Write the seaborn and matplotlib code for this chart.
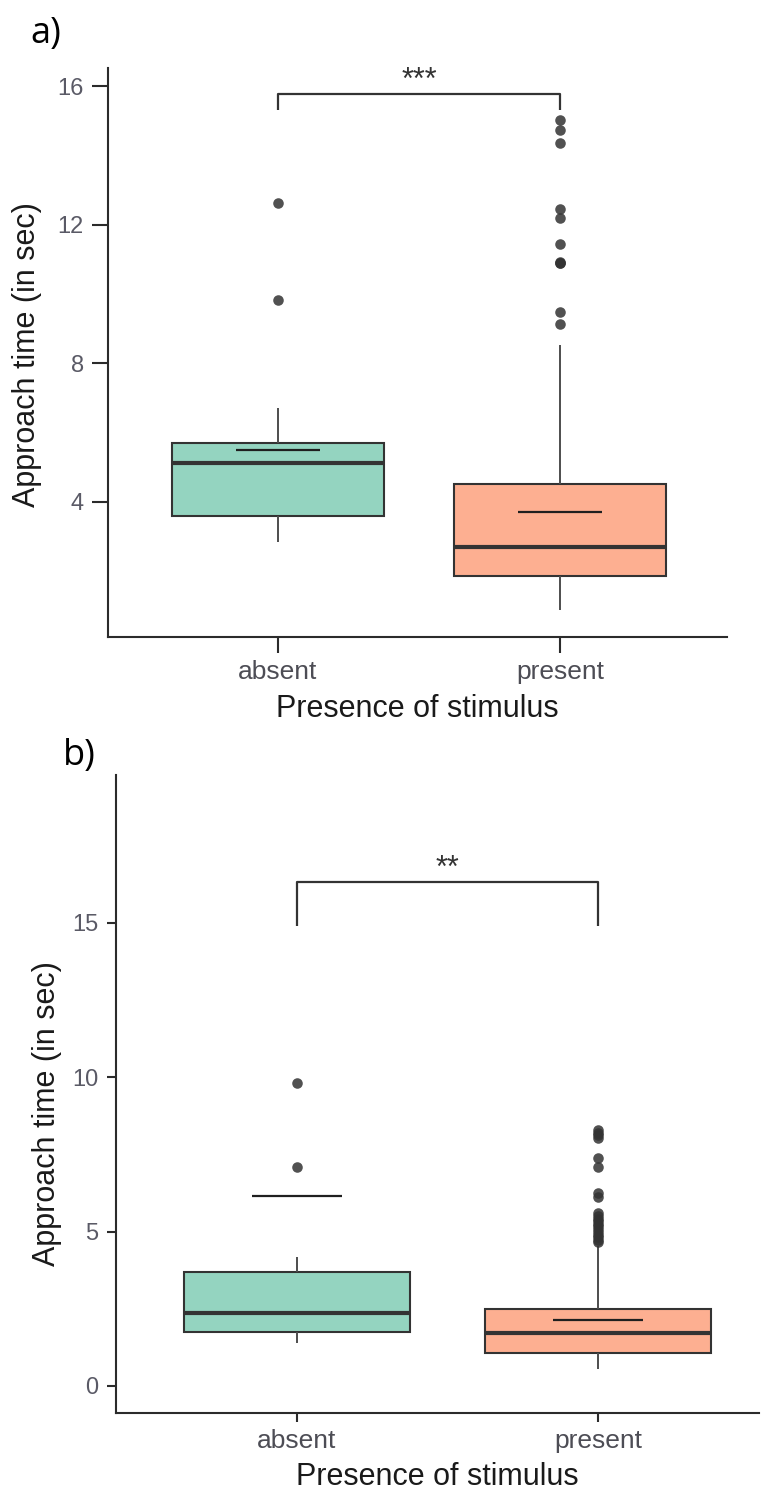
import numpy as np
import pandas as pd
import matplotlib
matplotlib.use("Agg")
import matplotlib.pyplot as plt
import seaborn as sns

# ---------------- data ----------------
categories = ["absent", "present"]

# five-number summaries: [lower whisker, Q1, median, Q3, upper whisker]
a_absent_box = [2.85, 3.60, 5.12, 5.70, 6.71]
a_present_box = [0.88, 1.87, 2.70, 4.52, 8.53]
a_means = [5.50, 3.72]
a_absent_outliers = [9.83, 12.62]
a_present_outliers = [9.13, 9.49, 10.88, 10.90, 10.92, 11.44, 12.18, 12.44,
                      14.36, 14.72, 15.02]
a_yticks = [4, 8, 12, 16]
a_ylim = (0.1, 16.52)
a_bracket = (15.30, 15.77)
a_star_y = 15.91
a_signif = "***"

b_absent_box = [1.39, 1.75, 2.36, 3.69, 4.18]
b_present_box = [0.55, 1.07, 1.72, 2.49, 4.55]
b_means = [6.15, 2.13]
b_absent_outliers = [7.09, 9.82]
b_present_outliers = [4.66, 4.74, 4.83, 4.90, 5.00, 5.08, 5.17, 5.24, 5.33,
                      5.41, 5.50, 5.60, 6.12, 6.25, 7.09, 7.39, 8.03, 8.12,
                      8.20, 8.29]
b_yticks = [0, 5, 10, 15]
b_ylim = (-0.875, 19.79)
b_bracket = (14.90, 16.31)
b_star_y = 16.49
b_signif = "**"

# ---------------- style ----------------
sns.set_theme(style="ticks")
plt.rcParams["font.family"] = ["Liberation Sans", "DejaVu Sans"]

set2 = sns.color_palette("Set2")[:2]
fills = [tuple(0.7 * c + 0.3 for c in col) for col in set2]
EDGE = "#333333"

W, H = 769, 1494
fig = plt.figure(figsize=(W / 100, H / 100), dpi=100)


def px_axes(left, top, right, bottom):
    return fig.add_axes([left / W, 1 - bottom / H, (right - left) / W, (bottom - top) / H])


def panel(ax, abs_box, pres_box, means, abs_out, pres_out, yticks, ylim, xlim,
          bracket, star_y, signif, ticklen, ylab_x, ylab_y, xlab_y):
    df = pd.DataFrame({
        "Presence of stimulus": np.repeat(categories, 5),
        "value": list(abs_box) + list(pres_box),
    })
    # whiskers span the full given range (min..max of the five-number summary)
    sns.boxplot(data=df, x="Presence of stimulus", y="value", hue="Presence of stimulus",
                order=categories, hue_order=categories, palette=fills, saturation=1,
                legend=False, width=0.75, whis=(0, 100), showfliers=False, showcaps=False,
                linecolor=EDGE, linewidth=1.5,
                medianprops={"linewidth": 3.0, "color": EDGE},
                whiskerprops={"linewidth": 1.4, "color": "#4d4d4d"},
                ax=ax)
    out = pd.DataFrame({
        "Presence of stimulus": ["absent"] * len(abs_out) + ["present"] * len(pres_out),
        "value": list(abs_out) + list(pres_out),
    })
    sns.stripplot(data=out, x="Presence of stimulus", y="value", order=categories,
                  jitter=False, color="#333333", size=7.6, alpha=0.85,
                  linewidth=0, ax=ax)
    pos = np.arange(len(categories))
    ax.hlines(means, pos - 0.15, pos + 0.15, color="#1f1f1f", linewidth=1.6, zorder=5)
    # significance bracket
    ax.plot([0, 0, 1, 1], [bracket[0], bracket[1], bracket[1], bracket[0]],
            color=EDGE, linewidth=1.6, solid_capstyle="butt")
    ax.text(0.5, star_y, signif, ha="center", va="baseline", fontsize=22, color="#333333")

    ax.set_xlim(*xlim)
    ax.set_ylim(*ylim)
    ax.set_yticks(yticks)
    ax.set_yticklabels([str(t) for t in yticks])
    for s in ["top", "right"]:
        ax.spines[s].set_visible(False)
    for s in ["left", "bottom"]:
        ax.spines[s].set_color("#2b2b2b")
        ax.spines[s].set_linewidth(1.5)
    ax.tick_params(axis="both", direction="out", length=ticklen, width=1.5, color="#2b2b2b")
    ax.tick_params(axis="y", labelsize=17, labelcolor="#5a5a66", pad=6)
    ax.tick_params(axis="x", labelsize=19, labelcolor="#4d4d55", pad=5)
    ax.set_ylabel("Approach time (in sec)", fontsize=22, color="#1a1a1a")
    ax.set_xlabel("Presence of stimulus", fontsize=22, color="#1a1a1a")
    ax.yaxis.set_label_coords(ylab_x, ylab_y)
    ax.xaxis.set_label_coords(0.5, xlab_y)
    ax.grid(False)


ax_a = px_axes(108, 68, 727, 637)
panel(ax_a, a_absent_box, a_present_box, a_means, a_absent_outliers, a_present_outliers,
      a_yticks, a_ylim, (-0.603, 1.592), a_bracket, a_star_y, a_signif,
      ticklen=11.5, ylab_x=-0.107, ylab_y=0.496, xlab_y=-0.100)

ax_b = px_axes(116, 775, 759, 1413)
panel(ax_b, b_absent_box, b_present_box, b_means, b_absent_outliers, b_present_outliers,
      b_yticks, b_ylim, (-0.601, 1.535), b_bracket, b_star_y, b_signif,
      ticklen=6.5, ylab_x=-0.084, ylab_y=0.47, xlab_y=-0.077)

fig.text(30 / W, 1 - 43 / H, "a)", fontsize=26, family=["Open Sans", "DejaVu Sans"],
         ha="left", va="baseline", color="black")
fig.text(63 / W, 1 - 765 / H, "b)", fontsize=26, family=["Open Sans", "DejaVu Sans"],
         ha="left", va="baseline", color="black")

fig.savefig("out.png", dpi=100)
